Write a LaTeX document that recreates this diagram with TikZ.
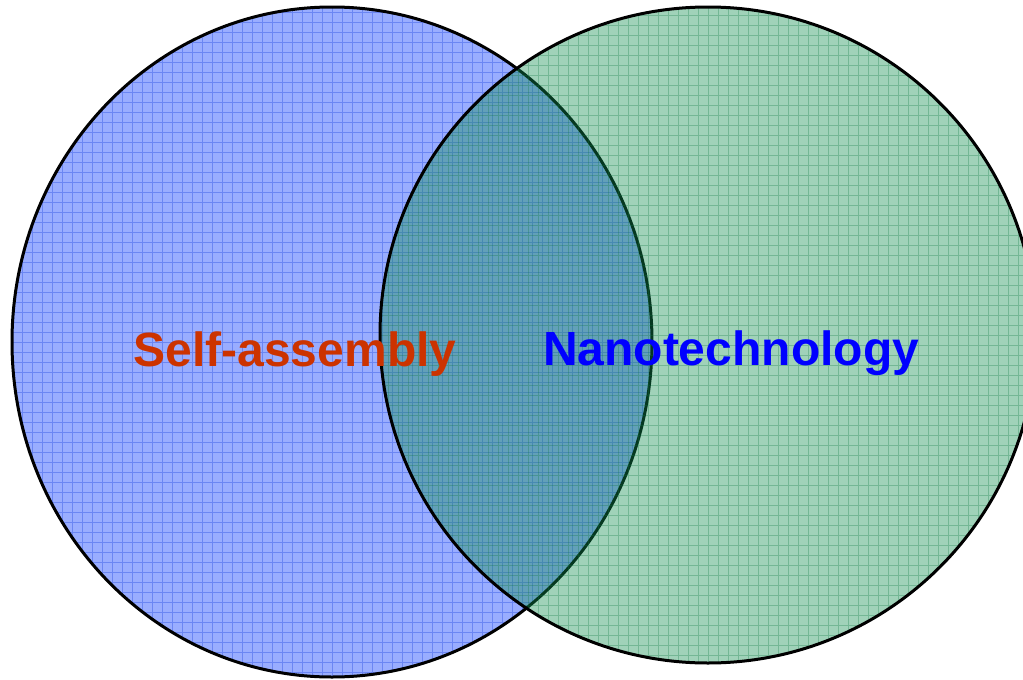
\documentclass[tikz,border=0pt]{standalone}
\usepackage{fontspec}
\setmainfont{Liberation Sans}
\usetikzlibrary{shapes.geometric}
\definecolor{selfblue}{RGB}{0,51,255}
\definecolor{nanogreen}{RGB}{17,142,80}
\definecolor{selfred}{RGB}{204,51,0}
\definecolor{nanoblue}{RGB}{0,0,255}

\begin{document}
\begin{tikzpicture}[x=0.5pt,y=-0.5pt,
    every ellipse node/.style={draw=black,line width=1.5pt,inner sep=0pt,fill opacity=0.4},
    venn set/.style={ellipse,fill=#1,
      path picture={\draw[#1!85!black,draw opacity=0.3,line width=0.5pt,step=5pt]
        (path picture bounding box.south west) grid (path picture bounding box.north east);}},
    venn label/.style={font=\fontsize{24pt}{28pt}\selectfont\bfseries,anchor=base}]

    \useasboundingbox (0,0) rectangle (1023,680);

    % the two sets
    \node[venn set=selfblue,minimum width=320pt,minimum height=335pt] (self) at (332,342) {};
    \node[venn set=nanogreen,minimum width=328pt,minimum height=328pt] (nano) at (708,335) {};

    \node[venn label,text=selfred] (self-text) at (295,366) {Self-assembly};
    \node[venn label,text=nanoblue] (nano-text) at (731,365) {Nanotechnology};
  \end{tikzpicture}
\end{document}
